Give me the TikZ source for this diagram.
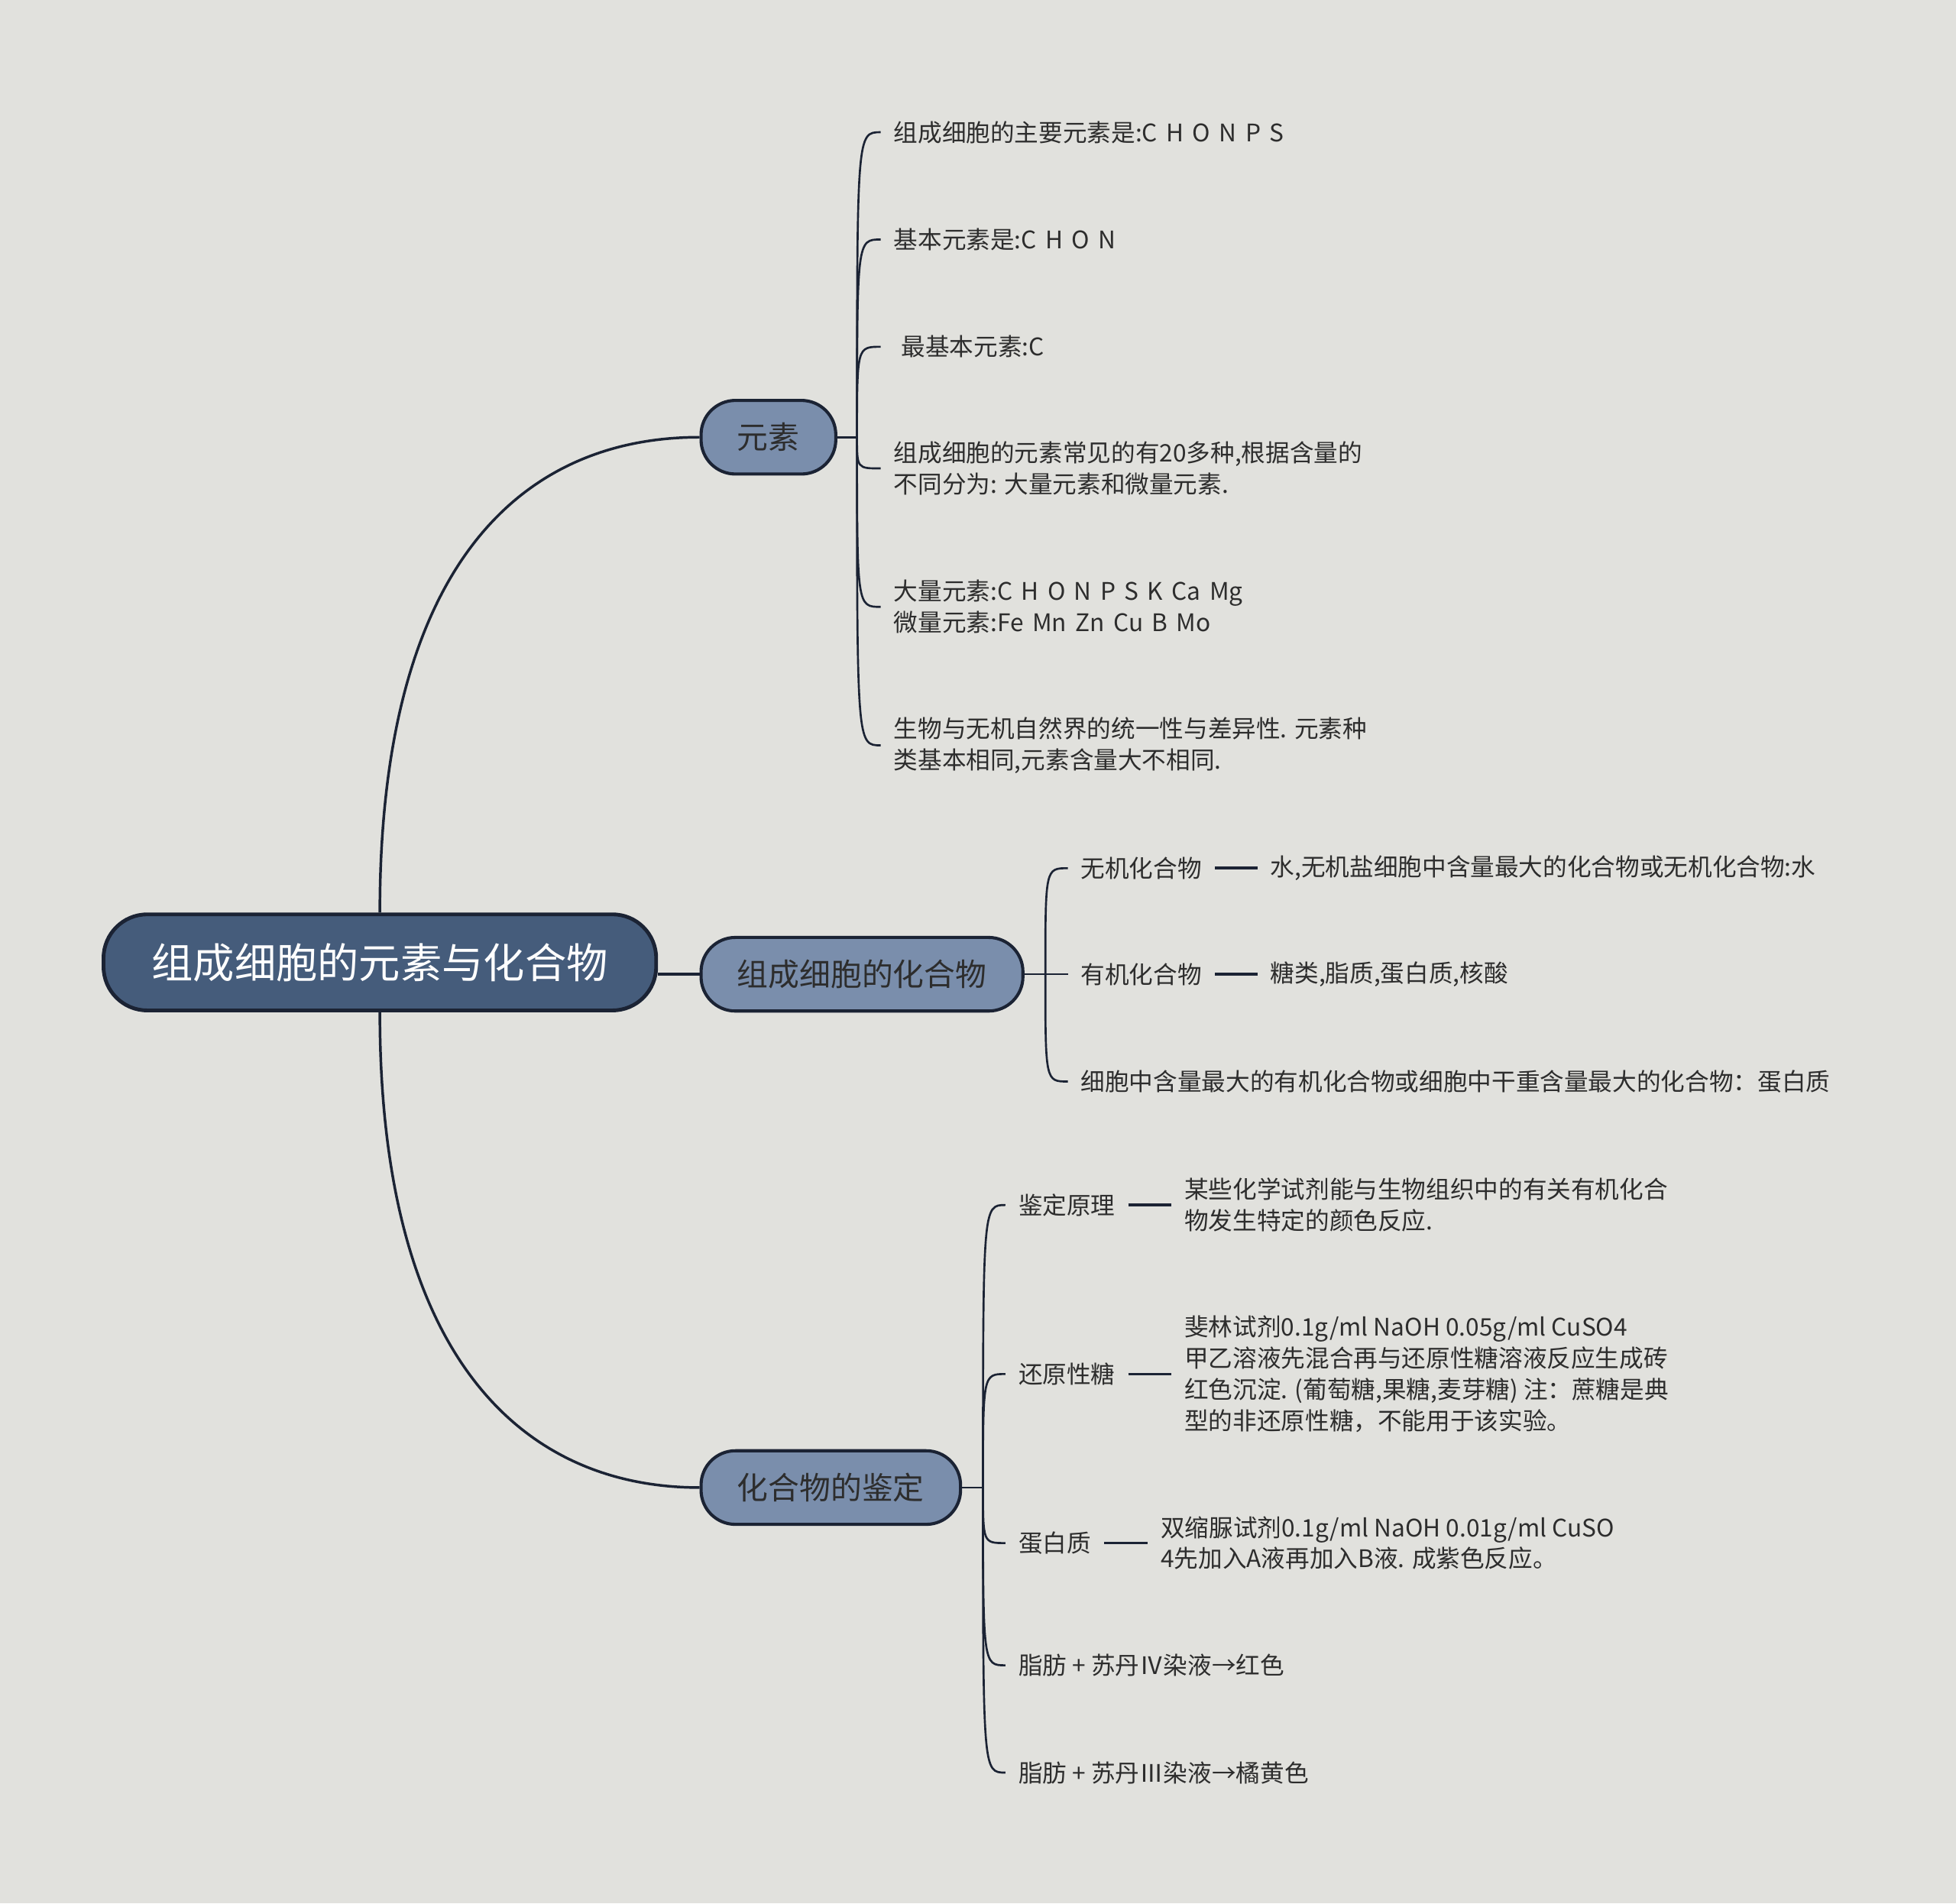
\documentclass[tikz,border=0pt]{standalone}
\usepackage{fontspec}
\setmainfont{Noto Sans CJK SC}
\definecolor{bg}{RGB}{225,225,221}
\definecolor{rootfill}{RGB}{69,92,123}
\definecolor{brfill}{RGB}{122,142,172}
\definecolor{edgec}{RGB}{27,35,52}
\definecolor{txt}{RGB}{45,45,45}
\newcommand\gap{\hspace{0.36em}}
\begin{document}
\begin{tikzpicture}[x=0.4pt,y=-0.4pt,
  rootnode/.style={draw=edgec, line width=1.2pt, fill=rootfill, rounded corners=14pt,
    minimum width=177.2pt, minimum height=30.8pt, text=white, inner sep=0pt,
    font={\fontsize{13.3pt}{16pt}\selectfont}},
  branch/.style={draw=edgec, line width=1pt, fill=brfill, rounded corners=11pt,
    minimum height=23.6pt, text=txt, inner sep=0pt,
    font={\fontsize{10pt}{12pt}\selectfont}},
  leaf/.style={anchor=west, inner xsep=4pt, inner ysep=0pt, align=left, text=txt,
    font={\fontsize{7.75pt}{10pt}\selectfont}},
  mainlink/.style={draw=edgec, line width=0.85pt},
  link/.style={draw=edgec, line width=0.65pt},
  dashlink/.style={draw=edgec, line width=0.9pt}]
\fill[bg] (0,0) rectangle (1568,1526);
\useasboundingbox (0,0) rectangle (1568,1526);

% root and branches
\node[rootnode] (root) at (304.5,771.5) {组成细胞的元素与化合物};
\node[branch, minimum width=43.2pt] (b1) at (616,350.5) {元素};
\node[branch, minimum width=103.2pt] (b2) at (691,781) {组成细胞的化合物};
\node[branch, minimum width=83.2pt] (b3) at (666,1192.5) {化合物的鉴定};

\draw[mainlink] (root.north) .. controls (304.5,450) and (420,350.5) .. (b1.west);
\draw[mainlink] (b2.west -| root.east) -- (b2.west);
\draw[mainlink] (root.south) .. controls (304.5,1090) and (420,1192.5) .. (b3.west);

% branch 1 leaves
\coordinate (s1) at (687,350.5);
\node[leaf] (a1) at (706,106) {组成细胞的主要元素是:C\gap H\gap O\gap N\gap P\gap S};
\node[leaf] (a2) at (706,192) {基本元素是:C\gap H\gap O\gap N};
\node[leaf] (a3) at (706,278) {\hspace{2.4pt}最基本元素:C};
\node[leaf] (a4) at (706,375.5) {组成细胞的元素常见的有20多种,根据含量的\\不同分为: 大量元素和微量元素.};
\node[leaf] (a5) at (706,486.5) {大量元素:C\gap H\gap O\gap N\gap P\gap S\gap K\gap Ca\gap Mg\\微量元素:Fe\gap Mn\gap Zn\gap Cu\gap B\gap Mo};
\node[leaf] (a6) at (706,597.5) {生物与无机自然界的统一性与差异性. 元素种\\类基本相同,元素含量大不相同.};
\draw[link] (b1.east) -- (s1);
\foreach \n in {a1,a2,a3,a4,a5,a6}
  \draw[link] (s1) .. controls (s1 |- \n.west) .. (\n.west);

% branch 2 leaves
\coordinate (s2) at (838,781);
\node[leaf] (c1) at (856,696) {无机化合物};
\node[leaf] (c2) at (856,781) {有机化合物};
\node[leaf] (c3) at (856,867) {细胞中含量最大的有机化合物或细胞中干重含量最大的化合物：蛋白质};
\node[leaf] (d1) at (1008,696) {水,无机盐细胞中含量最大的化合物或无机化合物:水};
\node[leaf] (d2) at (1008,781) {糖类,脂质,蛋白质,核酸};
\draw[link] (b2.east) -- (s2);
\foreach \n in {c1,c2,c3}
  \draw[link] (s2) .. controls (s2 |- \n.west) .. (\n.west);
\draw[dashlink] (c1.east) -- (d1.west);
\draw[dashlink] (c2.east) -- (d2.west);

% branch 3 leaves
\coordinate (s3) at (788,1192.5);
\node[leaf] (e1) at (806,966) {鉴定原理};
\node[leaf] (e2) at (806,1101.5) {还原性糖};
\node[leaf] (e3) at (806,1237) {蛋白质};
\node[leaf] (e4) at (806,1335) {脂肪 + 苏丹Ⅳ染液→红色};
\node[leaf] (e5) at (806,1421) {脂肪 + 苏丹Ⅲ染液→橘黄色};
\node[leaf] (f1) at (939,966) {某些化学试剂能与生物组织中的有关有机化合\\物发生特定的颜色反应.};
\node[leaf] (f2) at (939,1101.5) {斐林试剂0.1g/ml NaOH 0.05g/ml CuSO4\\甲乙溶液先混合再与还原性糖溶液反应生成砖\\红色沉淀. (葡萄糖,果糖,麦芽糖) 注：蔗糖是典\\型的非还原性糖，不能用于该实验。};
\node[leaf] (f3) at (920,1237) {双缩脲试剂0.1g/ml NaOH 0.01g/ml CuSO\\4先加入A液再加入B液. 成紫色反应。};
\draw[link] (b3.east) -- (s3);
\foreach \n in {e1,e2,e3,e4,e5}
  \draw[link] (s3) .. controls (s3 |- \n.west) .. (\n.west);
\draw[dashlink] (e1.east) -- (f1.west);
\draw[dashlink] (e2.east) -- (f2.west);
\draw[dashlink] (e3.east) -- (f3.west);
\end{tikzpicture}
\end{document}
